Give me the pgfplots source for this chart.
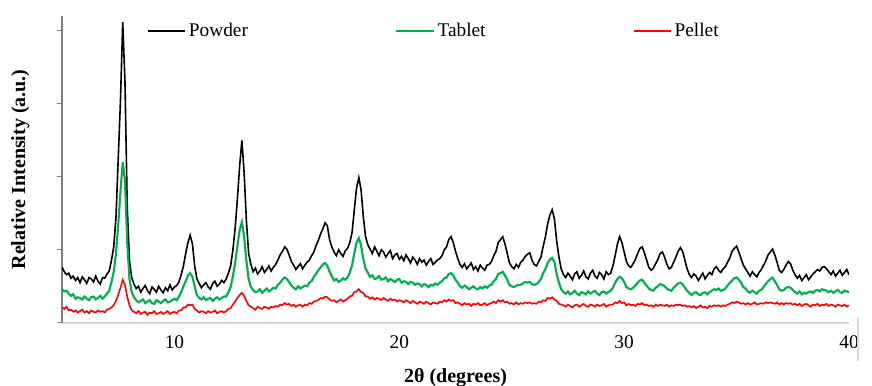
\documentclass[border=0pt]{standalone}
\usepackage{pgfplots}
\usepackage{pgfplotstable}
\pgfplotsset{compat=1.18}
\usepackage{fontspec}
\setmainfont{Liberation Serif}
\definecolor{xlgreen}{RGB}{0,176,80}
\definecolor{xlred}{RGB}{255,0,0}
\pgfplotsset{legend image code/.code={\draw[#1] (0pt,0pt) -- (28pt,0pt);}}
\pgfplotstableread{
x P T L
5.0 0.76 0.46 0.21
5.1 0.70 0.43 0.19
5.2 0.66 0.44 0.22
5.3 0.68 0.40 0.17
5.4 0.61 0.37 0.18
5.5 0.64 0.39 0.15
5.6 0.58 0.33 0.17
5.7 0.62 0.35 0.14
5.8 0.55 0.34 0.16
5.9 0.63 0.32 0.18
6.0 0.59 0.36 0.14
6.1 0.54 0.33 0.16
6.2 0.62 0.31 0.13
6.3 0.60 0.35 0.17
6.4 0.56 0.36 0.15
6.5 0.64 0.32 0.14
6.6 0.57 0.34 0.17
6.7 0.53 0.37 0.15
6.8 0.62 0.33 0.16
6.9 0.61 0.36 0.14
7.0 0.67 0.40 0.18
7.1 0.71 0.44 0.19
7.2 0.86 0.56 0.21
7.3 1.04 0.70 0.24
7.4 1.45 0.95 0.30
7.5 2.25 1.35 0.38
7.6 3.05 1.80 0.48
7.7 4.12 2.20 0.59
7.8 3.30 1.95 0.52
7.9 1.60 1.10 0.36
8.0 0.85 0.60 0.24
8.1 0.62 0.42 0.17
8.2 0.53 0.35 0.15
8.3 0.47 0.31 0.13
8.4 0.50 0.28 0.16
8.5 0.42 0.30 0.12
8.6 0.47 0.32 0.14
8.7 0.51 0.27 0.15
8.8 0.44 0.29 0.11
8.9 0.40 0.31 0.14
9.0 0.49 0.27 0.13
9.1 0.46 0.26 0.16
9.2 0.42 0.31 0.12
9.3 0.50 0.29 0.13
9.4 0.45 0.27 0.15
9.5 0.41 0.30 0.12
9.6 0.48 0.32 0.14
9.7 0.44 0.28 0.16
9.8 0.52 0.29 0.12
9.9 0.45 0.31 0.14
10.0 0.49 0.33 0.15
10.1 0.51 0.31 0.13
10.2 0.56 0.36 0.17
10.3 0.66 0.42 0.17
10.4 0.78 0.50 0.21
10.5 0.95 0.57 0.21
10.6 1.10 0.65 0.25
10.7 1.20 0.68 0.24
10.8 1.08 0.63 0.25
10.9 0.78 0.50 0.19
11.0 0.60 0.38 0.17
11.1 0.54 0.34 0.14
11.2 0.48 0.32 0.16
11.3 0.52 0.35 0.15
11.4 0.55 0.31 0.13
11.5 0.49 0.33 0.16
11.6 0.46 0.34 0.14
11.7 0.54 0.30 0.15
11.8 0.57 0.33 0.17
11.9 0.50 0.35 0.13
12.0 0.53 0.32 0.15
12.1 0.58 0.34 0.16
12.2 0.55 0.36 0.14
12.3 0.60 0.36 0.16
12.4 0.68 0.42 0.19
12.5 0.78 0.49 0.20
12.6 1.00 0.64 0.25
12.7 1.30 0.82 0.29
12.8 1.70 1.05 0.34
12.9 2.15 1.27 0.38
13.0 2.50 1.38 0.41
13.1 2.05 1.18 0.37
13.2 1.40 0.85 0.30
13.3 0.95 0.60 0.24
13.4 0.80 0.49 0.22
13.5 0.70 0.45 0.20
13.6 0.75 0.42 0.18
13.7 0.67 0.43 0.22
13.8 0.71 0.46 0.20
13.9 0.77 0.41 0.19
14.0 0.69 0.44 0.22
14.1 0.73 0.47 0.21
14.2 0.78 0.43 0.19
14.3 0.71 0.45 0.22
14.4 0.76 0.48 0.21
14.5 0.80 0.47 0.23
14.6 0.86 0.52 0.22
14.7 0.93 0.55 0.25
14.8 0.98 0.59 0.24
14.9 1.04 0.62 0.27
15.0 1.01 0.60 0.25
15.1 0.93 0.56 0.26
15.2 0.84 0.51 0.23
15.3 0.79 0.48 0.25
15.4 0.73 0.46 0.22
15.5 0.77 0.50 0.24
15.6 0.81 0.47 0.25
15.7 0.74 0.49 0.22
15.8 0.79 0.51 0.25
15.9 0.83 0.50 0.24
16.0 0.86 0.55 0.27
16.1 0.92 0.57 0.26
16.2 0.97 0.63 0.29
16.3 1.06 0.67 0.30
16.4 1.13 0.72 0.31
16.5 1.22 0.76 0.34
16.6 1.29 0.80 0.33
16.7 1.37 0.82 0.36
16.8 1.33 0.78 0.35
16.9 1.14 0.70 0.32
17.0 1.04 0.64 0.30
17.1 0.97 0.58 0.31
17.2 0.92 0.60 0.28
17.3 1.00 0.56 0.30
17.4 0.95 0.58 0.32
17.5 0.91 0.61 0.29
17.6 0.99 0.59 0.31
17.7 1.02 0.62 0.33
17.8 1.10 0.69 0.36
17.9 1.24 0.79 0.37
18.0 1.55 0.95 0.42
18.1 1.85 1.10 0.43
18.2 1.99 1.16 0.46
18.3 1.82 1.06 0.42
18.4 1.45 0.88 0.41
18.5 1.18 0.74 0.36
18.6 1.07 0.69 0.36
18.7 1.01 0.63 0.33
18.8 0.95 0.65 0.35
18.9 1.04 0.60 0.32
19.0 0.98 0.61 0.34
19.1 0.92 0.64 0.33
19.2 1.00 0.59 0.31
19.3 0.97 0.60 0.34
19.4 0.90 0.62 0.32
19.5 0.95 0.57 0.30
19.6 0.99 0.60 0.33
19.7 0.88 0.58 0.31
19.8 0.93 0.56 0.32
19.9 0.95 0.59 0.29
20.0 0.87 0.60 0.31
20.1 0.91 0.55 0.30
20.2 0.85 0.57 0.28
20.3 0.93 0.56 0.31
20.4 0.88 0.53 0.29
20.5 0.82 0.56 0.27
20.6 0.90 0.55 0.30
20.7 0.86 0.52 0.28
20.8 0.80 0.54 0.26
20.9 0.88 0.53 0.29
21.0 0.83 0.50 0.28
21.1 0.86 0.53 0.26
21.2 0.79 0.52 0.29
21.3 0.84 0.49 0.27
21.4 0.88 0.52 0.25
21.5 0.80 0.51 0.28
21.6 0.83 0.54 0.27
21.7 0.86 0.52 0.26
21.8 0.88 0.55 0.29
21.9 0.92 0.57 0.28
22.0 1.00 0.61 0.31
22.1 1.04 0.62 0.29
22.2 1.14 0.67 0.32
22.3 1.18 0.68 0.30
22.4 1.10 0.65 0.31
22.5 0.98 0.59 0.27
22.6 0.88 0.55 0.28
22.7 0.80 0.50 0.26
22.8 0.76 0.48 0.24
22.9 0.81 0.51 0.27
23.0 0.74 0.49 0.25
23.1 0.78 0.46 0.26
23.2 0.82 0.48 0.23
23.3 0.73 0.50 0.26
23.4 0.77 0.47 0.25
23.5 0.71 0.46 0.27
23.6 0.79 0.49 0.24
23.7 0.75 0.47 0.25
23.8 0.72 0.50 0.27
23.9 0.79 0.48 0.24
24.0 0.80 0.51 0.26
24.1 0.84 0.52 0.27
24.2 0.92 0.57 0.29
24.3 0.98 0.60 0.27
24.4 1.10 0.67 0.31
24.5 1.14 0.68 0.29
24.6 1.18 0.70 0.31
24.7 1.08 0.65 0.28
24.8 0.95 0.59 0.29
24.9 0.82 0.52 0.26
25.0 0.77 0.50 0.27
25.1 0.74 0.49 0.25
25.2 0.80 0.51 0.28
25.3 0.76 0.52 0.25
25.4 0.83 0.52 0.27
25.5 0.86 0.54 0.26
25.6 0.91 0.56 0.28
25.7 0.94 0.55 0.27
25.8 0.96 0.56 0.28
25.9 0.86 0.53 0.26
26.0 0.80 0.52 0.27
26.1 0.78 0.53 0.26
26.2 0.84 0.56 0.29
26.3 0.90 0.60 0.28
26.4 1.05 0.68 0.31
26.5 1.18 0.74 0.30
26.6 1.36 0.82 0.34
26.7 1.48 0.87 0.33
26.8 1.55 0.89 0.35
26.9 1.42 0.83 0.32
27.0 1.12 0.67 0.30
27.1 0.90 0.55 0.26
27.2 0.74 0.46 0.25
27.3 0.66 0.42 0.24
27.4 0.62 0.40 0.22
27.5 0.68 0.43 0.25
27.6 0.64 0.39 0.23
27.7 0.59 0.41 0.21
27.8 0.67 0.44 0.24
27.9 0.70 0.40 0.25
28.0 0.61 0.38 0.22
28.1 0.65 0.42 0.24
28.2 0.71 0.41 0.26
28.3 0.63 0.39 0.23
28.4 0.60 0.43 0.22
28.5 0.68 0.40 0.25
28.6 0.72 0.42 0.24
28.7 0.64 0.44 0.22
28.8 0.61 0.40 0.25
28.9 0.69 0.38 0.23
29.0 0.66 0.42 0.24
29.1 0.60 0.43 0.26
29.2 0.70 0.40 0.22
29.3 0.66 0.42 0.24
29.4 0.68 0.44 0.25
29.5 0.78 0.48 0.25
29.6 0.92 0.55 0.28
29.7 1.08 0.60 0.27
29.8 1.18 0.63 0.30
29.9 1.10 0.61 0.27
30.0 0.97 0.56 0.28
30.1 0.84 0.49 0.24
30.2 0.78 0.47 0.26
30.3 0.76 0.46 0.24
30.4 0.81 0.48 0.25
30.5 0.87 0.51 0.23
30.6 0.95 0.55 0.26
30.7 1.02 0.58 0.25
30.8 1.04 0.59 0.27
30.9 0.96 0.55 0.24
31.0 0.86 0.51 0.25
31.1 0.76 0.47 0.23
31.2 0.72 0.45 0.24
31.3 0.75 0.44 0.22
31.4 0.81 0.48 0.25
31.5 0.87 0.50 0.23
31.6 0.95 0.53 0.25
31.7 0.97 0.52 0.24
31.8 0.90 0.50 0.23
31.9 0.80 0.47 0.25
32.0 0.74 0.45 0.22
32.1 0.76 0.44 0.24
32.2 0.83 0.48 0.23
32.3 0.90 0.51 0.25
32.4 0.98 0.54 0.24
32.5 1.03 0.55 0.25
32.6 0.98 0.53 0.23
32.7 0.86 0.48 0.24
32.8 0.74 0.44 0.22
32.9 0.66 0.41 0.23
33.0 0.62 0.38 0.21
33.1 0.67 0.41 0.23
33.2 0.64 0.42 0.20
33.3 0.58 0.39 0.22
33.4 0.63 0.38 0.24
33.5 0.68 0.41 0.21
33.6 0.60 0.42 0.22
33.7 0.65 0.39 0.20
33.8 0.69 0.42 0.23
33.9 0.66 0.44 0.22
34.0 0.74 0.46 0.24
34.1 0.77 0.45 0.23
34.2 0.72 0.47 0.24
34.3 0.69 0.44 0.22
34.4 0.74 0.45 0.24
34.5 0.77 0.47 0.23
34.6 0.83 0.51 0.25
34.7 0.89 0.55 0.26
34.8 0.98 0.58 0.28
34.9 1.02 0.61 0.27
35.0 1.05 0.62 0.29
35.1 0.97 0.59 0.28
35.2 0.88 0.55 0.26
35.3 0.79 0.49 0.27
35.4 0.74 0.47 0.25
35.5 0.69 0.43 0.27
35.6 0.64 0.41 0.25
35.7 0.70 0.44 0.26
35.8 0.66 0.42 0.28
35.9 0.63 0.40 0.25
36.0 0.69 0.44 0.26
36.1 0.73 0.45 0.27
36.2 0.79 0.49 0.26
36.3 0.85 0.53 0.28
36.4 0.93 0.57 0.27
36.5 0.97 0.60 0.28
36.6 1.01 0.62 0.27
36.7 0.93 0.57 0.26
36.8 0.83 0.52 0.28
36.9 0.72 0.46 0.25
37.0 0.69 0.44 0.27
37.1 0.73 0.45 0.25
37.2 0.79 0.48 0.27
37.3 0.84 0.49 0.26
37.4 0.81 0.48 0.27
37.5 0.72 0.45 0.25
37.6 0.66 0.42 0.26
37.7 0.61 0.40 0.24
37.8 0.65 0.43 0.26
37.9 0.58 0.39 0.23
38.0 0.62 0.41 0.25
38.1 0.66 0.40 0.26
38.2 0.59 0.42 0.24
38.3 0.63 0.43 0.22
38.4 0.67 0.41 0.25
38.5 0.70 0.44 0.24
38.6 0.73 0.45 0.26
38.7 0.71 0.43 0.23
38.8 0.76 0.46 0.25
38.9 0.77 0.45 0.24
39.0 0.74 0.44 0.26
39.1 0.70 0.42 0.23
39.2 0.66 0.44 0.25
39.3 0.71 0.41 0.24
39.4 0.64 0.43 0.22
39.5 0.68 0.45 0.25
39.6 0.72 0.42 0.24
39.7 0.65 0.41 0.23
39.8 0.69 0.44 0.25
39.9 0.73 0.43 0.22
40.0 0.66 0.42 0.24
}\xrd
\begin{document}
\begin{tikzpicture}
\begin{axis}[
  scale only axis,
  width=590pt, height=230pt,
  xmin=5, xmax=40, ymin=0, ymax=4.205,
  axis x line*=bottom, axis y line*=left,
  x axis line style={-, draw=black!15, line width=1.2pt},
  y axis line style={-, draw=black!50, line width=0.8pt},
  xtick={10,20,30,40},
  x tick style={draw=none},
  ytick={0,1,2,3,4}, yticklabels={},
  y tick style={draw=black!50, line width=0.8pt},
  tick align=outside, major tick length=4pt,
  /pgf/number format/assume math mode=true,
  xticklabel style={font=\fontsize{14.5}{16}\selectfont, yshift=-2pt},
  xlabel={\textbf{2θ (degrees)}},
  ylabel={\textbf{Relative Intensity (a.u.)}},
  xlabel style={at={(axis description cs:0.5,-0.178)}, anchor=center, font=\fontsize{15}{17}\selectfont},
  ylabel style={at={(axis description cs:-0.053,0.5)}, anchor=center, font=\fontsize{15}{17}\selectfont},
  legend columns=3,
  legend style={at={(axis description cs:0.108,0.985)}, anchor=north west, draw=none, fill=none,
    font=\fontsize{14.5}{16}\selectfont, inner sep=0pt,
    /tikz/every even column/.append style={column sep=108.5pt}},
]
\addplot[black, line width=1.2pt] table[x=x, y=P] {\xrd};
\addlegendentry{Powder}
\addplot[xlgreen, line width=1.6pt] table[x=x, y=T] {\xrd};
\addlegendentry{Tablet}
\addplot[xlred, line width=1.2pt] table[x=x, y=L] {\xrd};
\addlegendentry{Pellet}
\end{axis}
\draw[black!15, line width=1pt] ([xshift=6.75pt,yshift=4.5pt]current axis.south east) -- ([xshift=6.75pt,yshift=-29pt]current axis.south east);
\pgfresetboundingbox
\useasboundingbox ([xshift=-46.5pt,yshift=-47.25pt]current axis.south west) rectangle ([xshift=17.25pt,yshift=12pt]current axis.north east);
\end{tikzpicture}
\end{document}
